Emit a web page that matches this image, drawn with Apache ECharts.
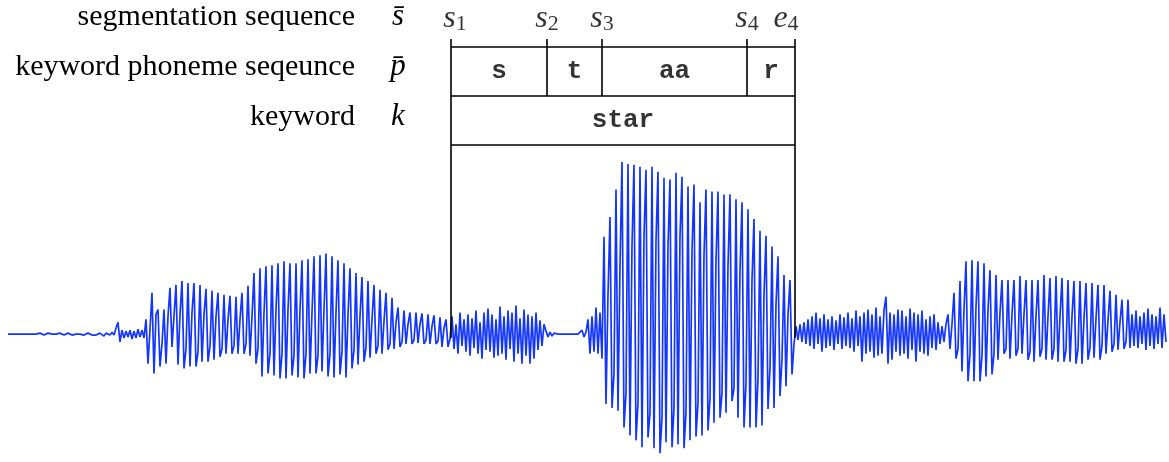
<!DOCTYPE html>
<html><head><meta charset="utf-8">
<script src="https://cdn.jsdelivr.net/npm/echarts@6/dist/echarts.min.js"></script>
<style>html,body{margin:0;padding:0;background:#fff}#c{width:1169px;height:462px}</style>
</head><body><div id="c"></div>
<script>
// ---- text ----
const rowLabels = ['segmentation sequence', 'keyword phoneme seqeunce', 'keyword'];
const rowSymbols = ['s\u0304', 'p\u0304', 'k'];
const boundaryNames = [['s','1'], ['s','2'], ['s','3'], ['s','4'], ['e','4']];
const phonemes = ['s', 't', 'aa', 'r'];
const keyword = 'star';
// segmentation boundaries s1..s4, e4 in waveform sample index units
const boundaries = [221.5, 269.5, 297, 369.5, 393.5];

// ---- waveform samples (amplitude, uniform time steps) ----
const waveSilence = [0,0,0,0,0,0,0,0,0,0,0,0,0,0,0,0,
  1,0,-1,0,1,-1,0,1,0,-1,1,0,-1,0,1,0,-1,1,0,-1,0,1,-1,0,1,0,-1,1,-1,0,1,0,-2,1,0,-1,2,-1];
const waveOnset = [6,12,-8,4,-4,3,-3,4,-5,3,-4,5,-3,4,-4];
const waveVoiced1 = [
  15,-30,5, 42,-40,20, 25,-33,-10, 25,-30,18, 47,-13,-12, 50,-31,20, 54,-35,-15, 52,-33,22, 52,-33,-18, 50,-28,20,
  46,-28,-12, 44,-26,18, 42,-23,-15, 40,-20,15, 39,-20,-12, 38,-20,15, 42,-20,-10, 49,-22,18, 62,-30,-15, 67,-43,22,
  69,-40,-20, 70,-42,25, 72,-45,-20, 74,-45,25, 72,-42,-22, 72,-44,25, 75,-45,-20, 76,-40,22, 79,-40,-22, 80,-38,25,
  82,-43,-20, 79,-44,22, 75,-41,-18, 72,-44,20, 67,-35,-16, 62,-31,18, 58,-28,-14, 54,-24,15, 50,-20,-12, 45,-20,13,
  42,-16,-10, 37,-15,12, 27,-13,-8, 24,-10,10, 22,-10,-6, 22,-9,10, 21,-10,-6, 20,-10,8, 19,-10,-7, 17,-13,6,
  15,-13,-5];
const waveFricative = [
  18,-15,10,-20,22,-12,15,-18,20,-22,
  16,-14,24,-20,12,-25,22,-16,26,-18,
  20,-24,15,-22,28,-20,18,-26,24,-15,
  22,-28,29,-20,16,-30,25,-22,20,-30,
  18,-25,22,-16,14,-12,10];
const waveClosure = [3,-3,2,-2,1,-1,0, 0,0,0,0,0,0,0,0,0,0,0, 4,-3,2, 15,-20,18,-18,27,-20,22,-25];
const waveVowel = [
  99,-71,40, 119,-75,-40, 147,-78,70, 175,-95,-60, 173,-103,90, 172,-108,-70, 170,-115,100, 167,-105,-80, 170,-116,95, 165,-121,-85,
  159,-110,90, 157,-115,-75, 164,-112,100, 160,-116,-80, 150,-108,85, 152,-104,-70, 134,-103,80, 147,-98,-65, 145,-90,75, 145,-85,-60,
  142,-80,70, 142,-68,-55, 137,-85,65, 134,-95,-50, 127,-95,55, 117,-95,-45, 105,-93,40, 100,-76,-35, 89,-75,30, 79,-63,-25,
  60,-53,20, 55,-41,-10];
const waveNoise1 = [8,-6,10,-8,12,-10,15,
  -12,18,-15,22,-10,16,-18,20,-14,15,-12,18,-16,14,-10,20,-15,17,-12,22,-14,16,-18,24,-12,18];
const waveNoise2 = [-28,22,-20,25,-18,20,-24,27,-22,18,-20,24,38,-30,22,-26,20,-18,25,-22,
  24,-20,18,-25,26,-16,22,-28,20,-18,24,-20,15,-22,18,-14,20,-16,12,-10,8,-8,10];
const waveVoiced2 = [
  20,-15,10, 42,-25,-15, 54,-38,25, 74,-48,-20, 75,-48,28, 74,-48,-22, 72,-43,25, 65,-41,-20, 60,-26,22, 55,-20,-15,
  55,-25,20, 55,-22,-15, 59,-20,20, 55,-26,-18, 55,-28,18, 55,-23,-15, 60,-26,18, 57,-26,-15, 59,-28,18, 57,-28,-16,
  55,-28,18, 54,-30,-15, 54,-30,16, 52,-26,-14, 52,-24,16, 50,-26,-12, 50,-20,14, 44,-18,-10, 40,-16,12, 35,-15,-8,
  35,-14];
const waveTail = [20,-12,24,-14,18,-10,22,-16,26,-12,20,-15,18,-10,27,-14,20,-8];

const wave = [].concat(waveSilence, waveOnset, waveVoiced1, waveFricative, waveClosure,
  waveVowel, waveNoise1, waveNoise2, waveVoiced2, waveTail);
const sampleIdx = wave.map((_, i) => i);

// ---- layout (annotation rows, in the annotation axis units) ----
const Y_TICK = 39, Y_R1 = 47, Y_R2 = 96, Y_R3 = 145, Y_WAVE = 338, Y_NAMES = 19;

const b = boundaries;
const first = b[0], last = b[b.length - 1];
const segLines = [
  {coords: [[first, Y_R1], [last, Y_R1]]},
  {coords: [[first, Y_R2], [last, Y_R2]]},
  {coords: [[first, Y_R3], [last, Y_R3]]},
  {coords: [[first, Y_TICK], [first, Y_WAVE]]},
  {coords: [[last, Y_TICK], [last, Y_WAVE]]}
];
for (let k = 1; k < b.length - 1; k++) segLines.push({coords: [[b[k], Y_TICK], [b[k], Y_R2]]});

const phonemeData = phonemes.map((p, k) => ({name: p, value: [(b[k] + b[k+1]) / 2, (Y_R1 + Y_R2) / 2]}));
phonemeData.push({name: keyword, value: [(first + last) / 2, (Y_R2 + Y_R3) / 2]});

const nameOffsets = [4, 0, 0, 0, -9];
const nameData = boundaryNames.map((n, k) => ({
  name: '{i|' + n[0] + '}{sub|' + n[1] + '}', value: [b[k], Y_NAMES],
  label: {offset: [nameOffsets[k], 0]}
}));

const serif = '"Liberation Serif", "DejaVu Serif", serif';
const chart = echarts.init(document.getElementById('c'), null, {renderer: 'canvas'});
chart.setOption({
  animation: false,
  backgroundColor: '#fff',
  grid: [
    {left: 8, right: 3, top: 157, height: 310},
    {left: 8, right: 3, top: 0, height: 340}
  ],
  xAxis: [
    {type: 'category', gridIndex: 0, data: sampleIdx, boundaryGap: false, show: false},
    {type: 'value', gridIndex: 1, min: 0, max: wave.length - 1, show: false}
  ],
  yAxis: [
    {type: 'value', gridIndex: 0, min: -130, max: 180, show: false},
    {type: 'value', gridIndex: 1, min: 0, max: 340, inverse: true, show: false}
  ],
  graphic: rowLabels.map((t, k) => ({
    type: 'text', x: 355, y: 17 + 50 * k,
    style: {text: t, font: '30px ' + serif, fill: '#000', align: 'right', verticalAlign: 'middle'}
  })).concat(rowSymbols.map((t, k) => ({
    type: 'text', x: 398, y: 17 + 50 * k,
    style: {text: t, font: 'italic 31px ' + serif, fill: '#000', align: 'center', verticalAlign: 'middle'}
  }))),
  series: [
    {
      type: 'line', xAxisIndex: 0, yAxisIndex: 0, data: wave, showSymbol: false, symbol: 'none',
      sampling: null, silent: true,
      lineStyle: {color: '#1236ff', width: 1.7}
    },
    {
      type: 'lines', coordinateSystem: 'cartesian2d', xAxisIndex: 1, yAxisIndex: 1, silent: true,
      data: segLines, lineStyle: {color: '#000', width: 1.6, opacity: 1}, symbol: ['none', 'none'], z: 5
    },
    {
      type: 'scatter', xAxisIndex: 1, yAxisIndex: 1, silent: true, symbolSize: 1,
      itemStyle: {color: 'transparent'}, data: phonemeData,
      label: {show: true, position: 'inside', formatter: '{b}', color: '#000',
        fontFamily: '"Liberation Mono", "DejaVu Sans Mono", monospace', fontWeight: 'bold', fontSize: 26}
    },
    {
      type: 'scatter', xAxisIndex: 1, yAxisIndex: 1, silent: true, symbolSize: 1,
      itemStyle: {color: 'transparent'}, data: nameData,
      label: {show: true, position: 'inside', formatter: '{b}', color: '#000',
        rich: {
          i: {fontFamily: serif, fontStyle: 'italic', fontSize: 32, lineHeight: 32, color: '#000'},
          sub: {fontFamily: serif, fontSize: 22, lineHeight: 22, verticalAlign: 'bottom', color: '#000'}
        }}
    }
  ]
});
</script></body></html>
